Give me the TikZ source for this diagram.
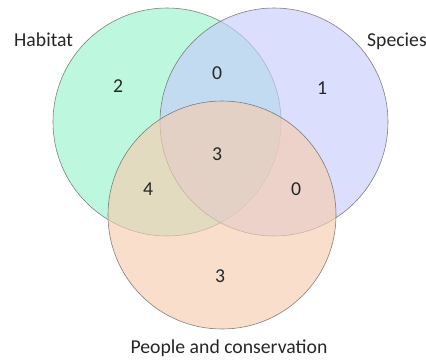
\documentclass[tikz,border=0pt]{standalone}
\usepackage{fontspec}
\setmainfont{Carlito}
\definecolor{habc}{rgb}{0.60,0.954,0.80}
\definecolor{spec}{rgb}{0.785,0.80,0.985}
\definecolor{peoc}{rgb}{0.969,0.80,0.692}
\definecolor{edgec}{rgb}{0.40,0.40,0.40}
\tikzset{
  setcircle/.style={circle, minimum size=228pt, inner sep=0pt, draw=edgec, line width=0.6pt, fill opacity=0.65, draw opacity=0.8},
  lbl/.style={inner sep=0pt, font=\fontsize{19.7}{24}\selectfont, text=black!85},
  num/.style={inner sep=0pt, font=\fontsize{19.7}{24}\selectfont, text=black!85}
}
\begin{document}
\begin{tikzpicture}[x=1pt,y=-1pt]
\useasboundingbox (0,0) rectangle (426,360);
\node[setcircle, fill=habc] (hab) at (167,122) {};
\node[setcircle, fill=spec] (spe) at (274,122) {};
\node[setcircle, fill=peoc] (peo) at (222,215) {};
\node[lbl, anchor=base west] (habl) at (14,46) {Habitat};
\node[lbl, anchor=base west] (spel) at (367,46) {Species};
\node[lbl, anchor=base] (peol) at (229,353) {People and conservation};
\node[num] (n1) at (118,86) {2};
\node[num] (n2) at (217,73) {0};
\node[num] (n3) at (322,88) {1};
\node[num] (n4) at (217,154) {3};
\node[num] (n5) at (148,189) {4};
\node[num] (n6) at (296,189) {0};
\node[num] (n7) at (220,276) {3};
\end{tikzpicture}
\end{document}
